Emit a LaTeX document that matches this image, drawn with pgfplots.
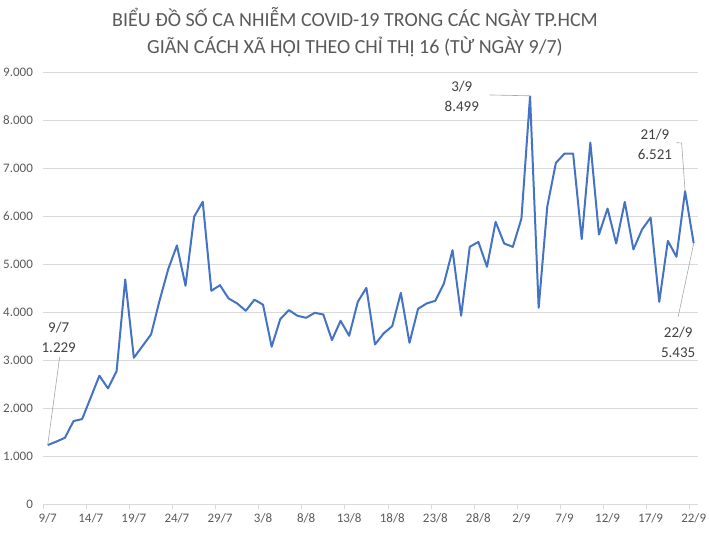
\documentclass[border=0pt]{standalone}
\usepackage{fontspec}
\setmainfont{Carlito}
\usepackage{pgfplots}
\pgfplotsset{compat=1.18}
\definecolor{lineblue}{HTML}{4472C4}
\definecolor{gridgray}{HTML}{D9D9D9}
\definecolor{txtgray}{HTML}{595959}
\definecolor{lblgray}{HTML}{404040}
\definecolor{leadgray}{HTML}{A6A6A6}

% so ca nhiem moi ngay, ngay 0 = 9/7
\pgfplotstableread{
day cases
0 1229
1 1300
2 1381
3 1729
4 1771
5 2222
6 2674
7 2410
8 2771
9 4680
10 3048
11 3292
12 3535
13 4250
14 4900
15 5390
16 4550
17 5990
18 6300
19 4444
20 4562
21 4285
22 4181
23 4028
24 4260
25 4155
26 3278
27 3854
28 4042
29 3924
30 3882
31 3986
32 3951
33 3417
34 3819
35 3507
36 4215
37 4507
38 3326
39 3556
40 3708
41 4403
42 3361
43 4070
44 4181
45 4236
46 4597
47 5292
48 3924
49 5361
50 5465
51 4944
52 5882
53 5431
54 5361
55 5950
56 8499
57 4090
58 6200
59 7111
60 7306
61 7306
62 5521
63 7535
64 5618
65 6160
66 5431
67 6298
68 5306
69 5722
70 5972
71 4215
72 5486
73 5153
74 6521
75 5435
}\cases

\begin{document}
\begin{tikzpicture}
\path[use as bounding box] (0pt,0pt) rectangle (709pt,533pt);
\node[text=txtgray, font=\fontsize{20}{27}\selectfont, align=center] at (355pt,501pt)
  {BIỂU ĐỒ SỐ CA NHIỄM COVID-19 TRONG CÁC NGÀY TP.HCM\\GIÃN CÁCH XÃ HỘI THEO CHỈ THỊ 16 (TỪ NGÀY 9/7)};
\begin{axis}[
    at={(43.4pt,29pt)}, anchor=south west,
    scale only axis,
    width=654.6pt, height=431.7pt,
    xmin=-0.5, xmax=75.5,
    ymin=0, ymax=9000,
    clip=false,
    axis lines*=left,
    x axis line style={draw=gridgray, line width=0.8pt},
    y axis line style={draw=none},
    ymajorgrids,
    grid style={draw=gridgray, line width=0.8pt},
    ytick={0,1000,...,9000},
    yticklabels={0,{1.000},{2.000},{3.000},{4.000},{5.000},{6.000},{7.000},{8.000},{9.000}},
    xtick={0,5,...,75},
    xticklabels={9/7,14/7,19/7,24/7,29/7,3/8,8/8,13/8,18/8,23/8,28/8,2/9,7/9,12/9,17/9,22/9},
    minor xtick={-0.5,4.5,...,75},
    major tick length=0pt,
    minor tick length=5pt,
    tick align=outside,
    minor x tick style={draw=gridgray, line width=0.8pt},
    tick label style={text=txtgray, font=\fontsize{13}{15}\selectfont},
    yticklabel style={xshift=-7pt},
    xticklabel style={yshift=-6pt},
    /pgf/number format/assume math mode=true,
]
\addplot[lineblue, line width=2pt, line join=round] table[x=day, y=cases] {\cases};

\draw[leadgray, line width=0.6pt] (axis cs:1.39,3065) -- (axis cs:0,1229);
\node[text=lblgray, font=\fontsize{15}{20}\selectfont, align=center] at (axis cs:1.28,3470) {9/7\\1.229};

\draw[leadgray, line width=0.6pt] (axis cs:51.3,8528) -- (axis cs:55.9,8510) -- (axis cs:56,8499);
\node[text=lblgray, font=\fontsize{15}{20}\selectfont, align=center] at (axis cs:48.08,8507) {3/9\\8.499};

\draw[leadgray, line width=0.6pt] (axis cs:73.0,7533) -- (axis cs:73.6,7527) -- (axis cs:74,6521);
\node[text=lblgray, font=\fontsize{15}{20}\selectfont, align=center] at (axis cs:70.5,7506) {21/9\\6.521};

\draw[leadgray, line width=0.6pt] (axis cs:73.2,3905) -- (axis cs:75,5435);
\node[text=lblgray, font=\fontsize{15}{20}\selectfont, align=center] at (axis cs:73.2,3378) {22/9\\5.435};
\end{axis}
\end{tikzpicture}
\end{document}
